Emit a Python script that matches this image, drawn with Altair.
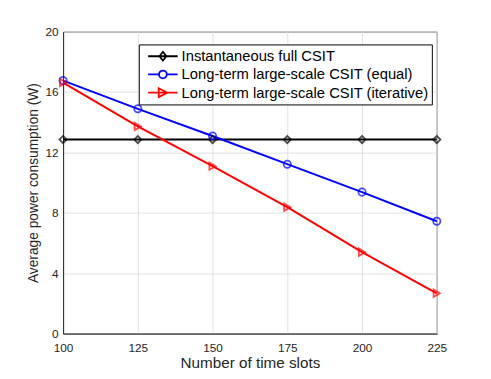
import altair as alt
import pandas as pd

slots = [100, 125, 150, 175, 200, 225]
full_csit = [12.85, 12.85, 12.85, 12.85, 12.85, 12.85]
equal = [16.76, 14.89, 13.09, 11.22, 9.37, 7.44]
iterative = [16.63, 13.72, 11.09, 8.37, 5.39, 2.67]

names = ["Instantaneous full CSIT",
         "Long-term large-scale CSIT (equal)",
         "Long-term large-scale CSIT (iterative)"]
colors = ["#000000", "#0000FF", "#FF0000"]
shapes = ["diamond", "circle", "triangle-right"]
legend_paths = [
    "M-0.33,0H3.67M1.67,-0.6L2.14,0L1.67,0.6L1.2,0Z",
    "M-0.33,0H1.14M2.2,0H3.67M2.2,0A0.53,0.53,0,1,1,1.14,0A0.53,0.53,0,1,1,2.2,0Z",
    "M-0.33,0H3.67M1.1,-0.6L2.27,0L1.1,0.6Z",
]

rows = []
for n, vals in zip(names, [full_csit, equal, iterative]):
    for s, v in zip(slots, vals):
        rows.append({"slots": s, "power": v, "series": n})
df = pd.DataFrame(rows)

font = "Liberation Sans"
xenc = alt.X("slots:Q", scale=alt.Scale(domain=[100, 225], nice=False),
             axis=alt.Axis(values=slots, title="Number of time slots", format="d"))
yenc = alt.Y("power:Q", scale=alt.Scale(domain=[0, 20], nice=False),
             axis=alt.Axis(values=[0, 4, 8, 12, 16, 20], title="Average power consumption (W)"))
color = alt.Color("series:N", scale=alt.Scale(domain=names, range=colors), legend=None)

base = alt.Chart(df).encode(x=xenc, y=yenc)

lines = base.mark_line(strokeWidth=2).encode(color=color)
points = base.mark_point(filled=False, strokeWidth=1.8, size=55).encode(
    color=color,
    shape=alt.Shape("series:N", scale=alt.Scale(domain=names, range=shapes), legend=None),
)

leg = alt.Legend(title=None, orient="none", legendX=77, legendY=13,
                 symbolSize=225, symbolStrokeWidth=1.8,
                 symbolOpacity=1, symbolFillColor="transparent",
                 labelFontSize=15, labelFont=font, labelColor="#000000",
                 labelLimit=400, rowPadding=1.5, labelOffset=23,
                 strokeColor="#000000", padding=3.5, fillColor="#ffffff")
legend_layer = base.mark_point(filled=False, opacity=0).encode(
    color=alt.Color("series:N", scale=alt.Scale(domain=names, range=colors), legend=leg),
    shape=alt.Shape("series:N", scale=alt.Scale(domain=names, range=legend_paths), legend=leg),
)

chart = alt.layer(lines, points, legend_layer).resolve_scale(
    shape="independent", color="independent"
).properties(
    width=380, height=307,
    autosize=alt.AutoSizeParams(type="none"),
    padding={"left": 56, "top": 21, "right": 47, "bottom": 35},
).configure_view(stroke="#262626", strokeWidth=1).configure_axis(
    grid=True, gridColor="#e0e0e0", gridWidth=1,
    domainColor="#262626", tickColor="#262626", tickSize=0,
    labelFont=font, labelFontSize=12, labelColor="#262626", labelFlush=False,
    titleFont=font, titleFontSize=14, titleFontWeight="normal", titleColor="#262626",
).configure_axisX(labelPadding=9, titlePadding=3, titleFontSize=15.5).configure_axisY(
    labelPadding=5, titlePadding=5)

chart.save("out.html", embed_options={"renderer": "svg", "actions": False})
